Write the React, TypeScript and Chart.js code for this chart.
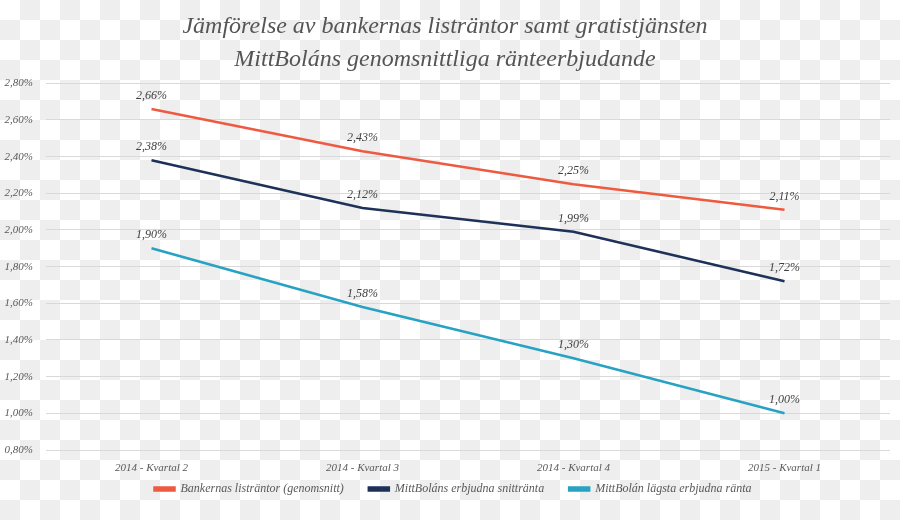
import React, { useEffect, useRef } from "react";
import { Chart, registerables } from "chart.js";

Chart.register(...registerables);

const categories = ["2014 - Kvartal 2", "2014 - Kvartal 3", "2014 - Kvartal 4", "2015 - Kvartal 1"];
const bankRates = [2.66, 2.43, 2.25, 2.11];
const avgRates = [2.38, 2.12, 1.99, 1.72];
const lowestRates = [1.9, 1.58, 1.3, 1.0];
const seriesNames = [
  "Bankernas listräntor (genomsnitt)",
  "MittBoláns erbjudna snittränta",
  "MittBolán lägsta erbjudna ränta",
];
const titleLines = [
  "Jämförelse av bankernas listräntor samt gratistjänsten",
  "MittBoláns genomsnittliga ränteerbjudande",
];

const FONT = "'Liberation Serif', 'DejaVu Serif', serif";
const LEGEND_PAD = 25;
const LEGEND_FONT = 12;
const LEGEND_CENTER_Y = 489;
const LEGEND_SHIFT_X = 8;
const fmt = (v: number) => v.toFixed(2).replace(".", ",") + "%";

const labelPlugin = {
  id: "pointLabels",
  afterDatasetsDraw(chart: any) {
    const ctx = chart.ctx;
    ctx.save();
    ctx.font = `italic 12px ${FONT}`;
    ctx.fillStyle = "#404040";
    ctx.textAlign = "center";
    ctx.textBaseline = "middle";
    chart.data.datasets.forEach((ds: any, i: number) => {
      const meta = chart.getDatasetMeta(i);
      meta.data.forEach((pt: any, j: number) => {
        ctx.fillText(fmt(ds.data[j]), pt.x, pt.y - 13);
      });
    });
    ctx.restore();
  },
};

// Legend items are laid out with wide horizontal gaps; move the legend box so
// its row sits at the wanted height without the tall vertical padding.
const legendShift = {
  id: "legendShift",
  beforeDraw(chart: any) {
    const lg = chart.legend;
    if (!lg) return;
    const dy = LEGEND_CENTER_Y - (lg.top + LEGEND_PAD + LEGEND_FONT / 2);
    lg.top += dy;
    lg.bottom = LEGEND_CENTER_Y + 14;
    lg.height = lg.bottom - lg.top;
    lg.left += LEGEND_SHIFT_X;
    lg.right += LEGEND_SHIFT_X;
  },
};

export default function App() {
  const ref = useRef<HTMLCanvasElement>(null);
  useEffect(() => {
    document.body.style.margin = "0";
    const chart = new Chart(ref.current!, {
      type: "line",
      data: {
        labels: categories,
        datasets: [
          { label: seriesNames[0], data: bankRates, borderColor: "#EE5A40", backgroundColor: "#EE5A40" },
          { label: seriesNames[1], data: avgRates, borderColor: "#1E3158", backgroundColor: "#1E3158" },
          { label: seriesNames[2], data: lowestRates, borderColor: "#27A2C2", backgroundColor: "#27A2C2" },
        ].map((d) => ({ ...d, borderWidth: 2.5, pointRadius: 0, tension: 0, fill: false })),
      },
      options: {
        animation: false,
        responsive: false,
        layout: { padding: { top: 11, right: 10, bottom: 14, left: 0 } },
        plugins: {
          title: {
            display: true,
            text: titleLines,
            color: "#555555",
            font: { family: FONT, size: 24, style: "italic", weight: "normal", lineHeight: 1.34 },
            padding: { top: 0, bottom: 8 },
          },
          legend: {
            position: "bottom",
            maxHeight: 30,
            labels: {
              boxWidth: 20,
              boxHeight: 3,
              padding: LEGEND_PAD,
              color: "#595959",
              font: { family: FONT, size: LEGEND_FONT, style: "italic" },
            },
          },
          tooltip: { enabled: false },
        },
        scales: {
          x: {
            offset: true,
            grid: { display: false, drawTicks: false },
            border: { display: false },
            ticks: { color: "#595959", padding: 12, font: { family: FONT, size: 11, style: "italic" }, maxRotation: 0 },
            afterFit: (s: any) => { s.height = 26; },
          },
          y: {
            min: 0.8,
            max: 2.8,
            grid: { color: "#d9d9d9", lineWidth: 1, drawTicks: false },
            border: { display: false },
            ticks: {
              stepSize: 0.2,
              padding: 13,
              color: "#595959",
              font: { family: FONT, size: 11, style: "italic" },
              callback: (v: any) => fmt(Number(v)),
            },
            afterFit: (s: any) => { s.width = 46; },
          },
        },
      },
      plugins: [labelPlugin, legendShift],
    });
    return () => chart.destroy();
  }, []);
  return (
    <div
      style={{
        position: "absolute",
        left: 0,
        top: 0,
        width: 900,
        height: 520,
        backgroundColor: "#fff",
        backgroundImage: "repeating-conic-gradient(#eeeeee 0 25%, #ffffff 0 50%)",
        backgroundSize: "40px 40px",
      }}
    >
      <canvas ref={ref} width={900} height={520} style={{ display: "block" }} />
    </div>
  );
}
